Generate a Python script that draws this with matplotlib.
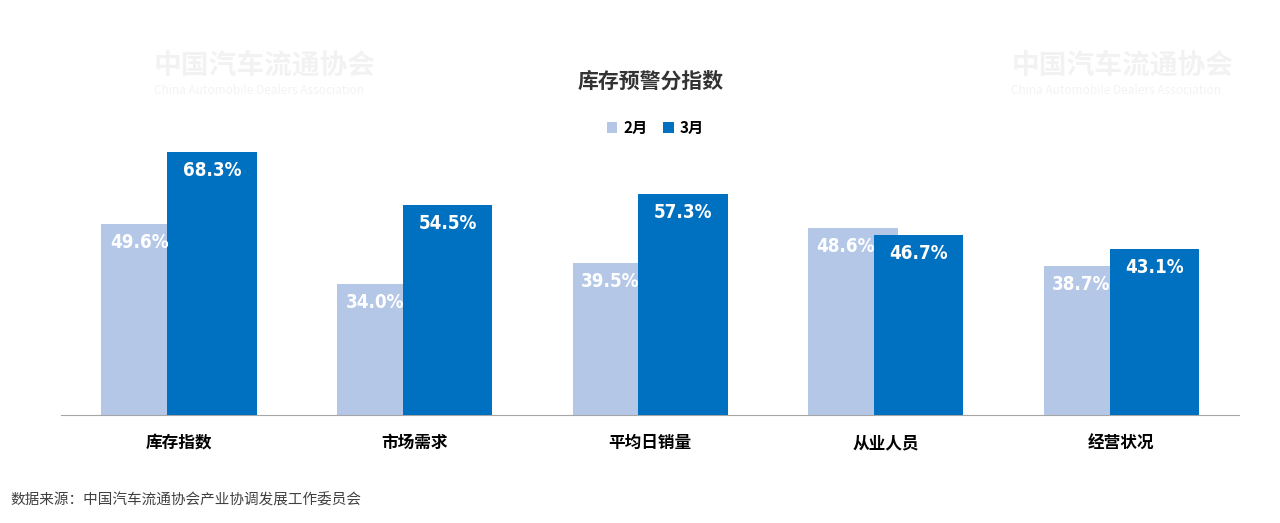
import matplotlib
matplotlib.use("Agg")
import matplotlib.pyplot as plt
import numpy as np

plt.rcParams['font.family'] = ['Noto Sans CJK SC', 'DejaVu Sans']

categories = ["库存指数", "市场需求", "平均日销量", "从业人员", "经营状况"]
feb = [49.6, 34.0, 39.5, 48.6, 38.7]
mar = [68.3, 54.5, 57.3, 46.7, 43.1]
series_names = ["2月", "3月"]

fig = plt.figure(figsize=(12.8, 5.23), dpi=100)
ax = fig.add_axes([0.048, 0.2065, 0.920, 0.552])
x = np.arange(len(categories))
w = 0.38
off = 0.14
c1, c2 = "#b4c7e7", "#0070c0"
b1 = ax.bar(x - off, feb, w, color=c1, label=series_names[0], zorder=2)
b2 = ax.bar(x + off, mar, w, color=c2, label=series_names[1], zorder=3)
for bars, vals, dx in ((b1, feb, -0.03), (b2, mar, 0.0)):
    for r, v in zip(bars, vals):
        ax.text(r.get_x() + r.get_width() / 2 + dx, v - 2.3, f"{v:.1f}%",
                ha="center", va="top", color="white", fontsize=13.5, fontweight="bold",
                family=['DejaVu Sans'], fontstretch="condensed", zorder=4)
ax.set_xlim(-0.5, 4.5)
ax.set_ylim(0, 75)
ax.set_yticks([])
ax.set_xticks(x)
ax.set_xticklabels(categories, fontsize=12, fontweight="bold")
ax.tick_params(axis="x", length=0, pad=14)
for s in ("top", "right", "left"):
    ax.spines[s].set_visible(False)
ax.spines["bottom"].set_color("#a6a6a6")

fig.text(0.508, 0.845, "库存预警分指数", ha="center", va="center", fontsize=15, fontweight="bold", color="#333333")
ax.legend(loc="center", ncol=2, frameon=False,
          handlelength=0.7, handleheight=0.7, columnspacing=1.0, handletextpad=0.4,
          prop={'weight': 'bold', 'size': 11})
ax.get_legend().set_bbox_to_anchor((0.512, 0.755), transform=fig.transFigure)
fig.text(0.008, 0.043, "数据来源：中国汽车流通协会产业协调发展工作委员会", fontsize=10.5, color="#404040", va="center")

for (px, py) in [(0.12, 0.86), (0.79, 0.86)]:
    fig.text(px, py, "中国汽车流通协会", fontsize=20, color="#000000", alpha=0.05, fontweight="bold")
    fig.text(px, py - 0.04, "China Automobile Dealers Association", fontsize=8.5, color="#000000", alpha=0.05)

fig.savefig("out.png", dpi=100)
